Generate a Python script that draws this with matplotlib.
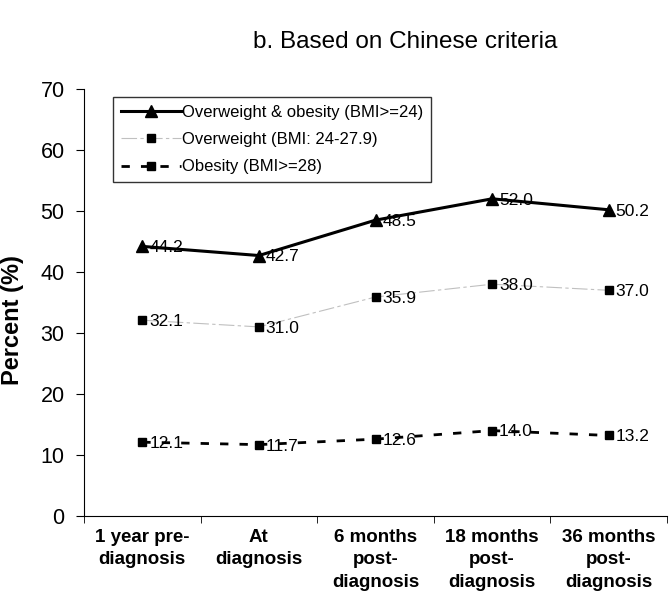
import matplotlib
matplotlib.use("Agg")
import matplotlib.pyplot as plt
import numpy as np

plt.rcParams['font.family'] = ['Liberation Sans', 'DejaVu Sans']

categories = ["1 year pre-\ndiagnosis", "At\ndiagnosis", "6 months\npost-\ndiagnosis",
              "18 months\npost-\ndiagnosis", "36 months\npost-\ndiagnosis"]
ow_ob = [44.2, 42.7, 48.5, 52.0, 50.2]
overweight = [32.1, 31.0, 35.9, 38.0, 37.0]
obesity = [12.1, 11.7, 12.6, 14.0, 13.2]
yticks = [0, 10, 20, 30, 40, 50, 60, 70]

fig = plt.figure(figsize=(6.72, 6.0), dpi=100)
ax = fig.add_axes([84/672, 1-516/600, 583/672, 427/600])
x = np.arange(len(categories))

ax.plot(x, ow_ob, color='black', lw=2.2, marker='^', ms=9, label='Overweight & obesity (BMI>=24)')
ax.plot(x, overweight, color='#c0c0c0', lw=0.8, dashes=(14, 3, 3, 3), marker='s', ms=6,
        mfc='black', mec='black', label='Overweight (BMI: 24-27.9)')
ax.plot(x, obesity, color='black', lw=2.0, dashes=(3, 4), marker='s', ms=6,
        mfc='black', mec='black', label='Obesity (BMI>=28)')

for series in (ow_ob, overweight, obesity):
    for xi, v in zip(x, series):
        ax.annotate(f"{v:.1f}", (xi, v), xytext=(5, -1), textcoords='offset points',
                    ha='left', va='center', fontsize=12.5)

ax.set_xlim(-0.5, len(categories) - 0.5)
ax.set_ylim(0, 70)
ax.set_yticks(yticks)
ax.tick_params(axis='y', labelsize=15.5, length=6, direction='out', pad=8)
ax.set_xticks(x)
ax.set_xticklabels(categories, fontsize=13.5, fontweight='bold', linespacing=1.45)
ax.tick_params(axis='x', which='major', length=0, pad=9)
ax.set_xticks(np.arange(-0.5, len(categories)), minor=True)
ax.tick_params(axis='x', which='minor', length=5, direction='out')
ax.spines['top'].set_visible(False)
ax.spines['right'].set_visible(False)
ax.set_ylabel("Percent (%)", fontsize=17, fontweight='bold')
ax.yaxis.set_label_coords(-60/583, (516-320)/427)

leg = ax.legend(loc='upper left', bbox_to_anchor=(29/583, 1-8/427), borderaxespad=0,
                fontsize=12, handlelength=3.6, handletextpad=0.1, frameon=True,
                fancybox=False, edgecolor='black', labelspacing=0.75, borderpad=0.45)
leg.get_frame().set_linewidth(1.0)

fig.text(405/672, 1-42/600, "b. Based on Chinese criteria", ha='center', va='center', fontsize=17.5)

fig.savefig("out.png", dpi=100)
